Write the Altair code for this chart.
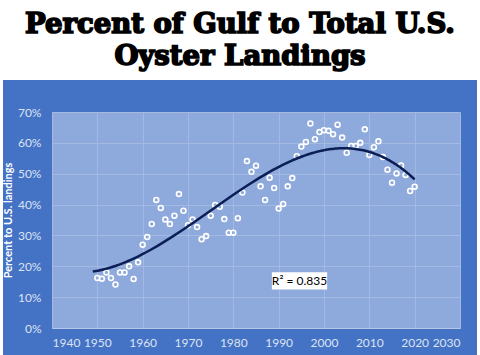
import altair as alt
import pandas as pd

years = list(range(1950, 2021))
pct = [16.2, 16.0, 18.0, 16.2, 14.1, 18.0, 18.0, 20.0, 15.9, 21.3,
       27.0, 29.5, 33.7, 41.5, 38.9, 35.2, 33.7, 36.4, 43.4, 38.0,
       33.3, 35.2, 32.7, 28.8, 29.8, 36.4, 39.9, 39.3, 35.3, 30.9,
       30.9, 35.6, 43.9, 54.1, 50.6, 52.6, 45.9, 41.5, 48.7, 45.4,
       38.7, 40.2, 45.9, 48.6, 55.7, 58.8, 60.3, 66.3, 61.2, 63.5,
       64.1, 63.9, 62.8, 65.9, 61.7, 56.8, 59.0, 59.0, 60.0, 64.4,
       56.1, 58.6, 60.5, 55.4, 51.3, 47.1, 50.1, 52.7, 49.6, 44.4,
       45.8]
x_ticks = list(range(1940, 2031, 10))
y_ticks = [0, 0.1, 0.2, 0.3, 0.4, 0.5, 0.6, 0.7]
title_lines = ["Percent of Gulf to Total U.S.", "Oyster Landings"]
r2_label = "R\u00b2 = 0.835"
r2_box = {"x": 1988.5, "x2": 2000.7, "y": 0.125, "y2": 0.181}

df = pd.DataFrame({"year": years, "pct": [p / 100 for p in pct]})

FRAME = "#4472C4"
PLOT = "#8EA9DB"
W, H = 408, 216
PL, PT = 52, 112

xs = alt.Scale(domain=[1940, 2030], nice=False, zero=False)
ys = alt.Scale(domain=[0, 0.7], nice=False)

x_axis = alt.Axis(values=x_ticks, format="d", title=None, grid=True,
                  gridColor="#A3B9E2", gridWidth=1, ticks=False,
                  domainColor="#B4C7E7", labelColor="#DCE4F4",
                  labelFont="Lato", labelFontSize=12, labelPadding=9,
                  labelOverlap=False)
y_axis = alt.Axis(values=y_ticks, format=".0%", title="Percent to U.S. landings",
                  grid=True, gridColor="#A3B9E2", gridWidth=1, ticks=False,
                  domain=False, labelColor="#DCE4F4", labelFont="Lato",
                  labelFontSize=12, labelPadding=11, labelOverlap=False,
                  titleColor="white", titleFont="Lato", titleFontSize=11,
                  titleFontWeight="bold", titlePadding=4)

base = alt.Chart(df)

points = base.mark_point(shape="circle", filled=False, color="white",
                         strokeWidth=1.6, size=24, opacity=1).encode(
    x=alt.X("year:Q", scale=xs, axis=x_axis),
    y=alt.Y("pct:Q", scale=ys, axis=y_axis),
)

trend = base.transform_regression(
    "year", "pct", method="poly", order=3, extent=[1949, 2020]
).mark_line(color="#0B1E55", strokeWidth=2.5).encode(
    x=alt.X("year:Q", scale=xs, axis=x_axis),
    y=alt.Y("pct:Q", scale=ys, axis=y_axis),
)

box_df = pd.DataFrame([dict(r2_box, label=r2_label)])
r2_rect = alt.Chart(box_df).mark_rect(color="white").encode(
    x=alt.X("x:Q", scale=xs, axis=x_axis), x2="x2:Q",
    y=alt.Y("y:Q", scale=ys, axis=y_axis), y2="y2:Q",
)
r2_text = alt.Chart(box_df).transform_calculate(
    xm="(datum.x + datum.x2) / 2", ym="(datum.y + datum.y2) / 2"
).mark_text(font="Lato", fontSize=12, color="black", baseline="middle").encode(
    x=alt.X("xm:Q", scale=xs, axis=x_axis),
    y=alt.Y("ym:Q", scale=ys, axis=y_axis),
    text="label:N",
)

one = alt.Data(values=[{}])
top_band = alt.Chart(one).mark_rect(color="white").encode(
    x=alt.value(-PL), x2=alt.value(480 - PL), y=alt.value(-PT), y2=alt.value(80 - PT))
left_strip = alt.Chart(one).mark_rect(color="white").encode(
    x=alt.value(-PL), x2=alt.value(3 - PL), y=alt.value(80 - PT), y2=alt.value(355 - PT))
right_strip = alt.Chart(one).mark_rect(color="white").encode(
    x=alt.value(477 - PL), x2=alt.value(480 - PL), y=alt.value(80 - PT), y2=alt.value(355 - PT))

title_marks = []
for line, base_y in zip(title_lines, [33, 65]):
    title_marks.append(
        alt.Chart(alt.Data(values=[{"t": line}])).mark_text(
            font="DejaVu Serif", fontWeight="bold", fontSize=27.5, color="black",
            stroke="black", strokeWidth=1.7, align="center", baseline="alphabetic"
        ).encode(x=alt.value(240 - PL), y=alt.value(base_y - PT), text="t:N")
    )

chart = alt.layer(
    points, trend, r2_rect, r2_text, top_band, left_strip, right_strip, *title_marks
).properties(
    width=W, height=H,
    autosize=alt.AutoSizeParams(type="none"),
    padding={"left": PL, "top": PT, "right": 480 - PL - W, "bottom": 355 - PT - H},
    background=FRAME,
).configure_view(fill=PLOT, stroke=None)

chart.save("out.html", embed_options={"renderer": "svg", "actions": False})
